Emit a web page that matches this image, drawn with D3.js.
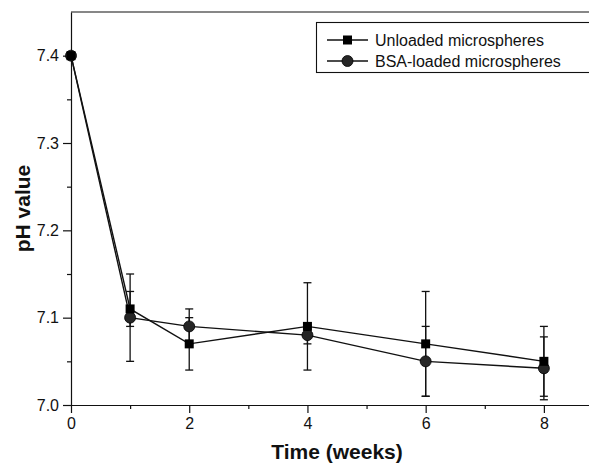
<!DOCTYPE html>
<html lang="en">
<head>
<meta charset="UTF-8">
<title>pH value over time</title>
<script src="https://d3js.org/d3.v7.min.js"></script>
<style>
  body { margin: 0; background: #fff; }
  svg text { font-family: "Liberation Sans", Arial, sans-serif; fill: #111; }
  .axis path, .axis line { stroke: #111; stroke-width: 1.2px; }
</style>
</head>
<body>
<div id="chart"></div>
<script>
// data
const weeks = [0, 1, 2, 4, 6, 8];
const unloaded = [7.40, 7.11, 7.07, 7.09, 7.07, 7.05];
const unloadedErr = [0, 0.02, 0.03, 0.05, 0.06, 0.04];
const bsaLoaded = [7.40, 7.10, 7.09, 7.08, 7.05, 7.042];
const bsaErr = [0, 0.05, 0.02, 0.01, 0.04, 0.036];
const seriesNames = ["Unloaded microspheres", "BSA-loaded microspheres"];
const xTicks = [0, 2, 4, 6, 8];
const yTicks = [7.0, 7.1, 7.2, 7.3, 7.4];

var W = 589, H = 466;
var margin = {top: 12, left: 71, bottom: 61};

var svg = d3.select("#chart").append("svg")
  .attr("width", W).attr("height", H);

// plot box runs past the right edge of the picture (cropped)
var x = d3.scaleLinear().domain([0, 9]).range([margin.left, 603]);
var y = d3.scaleLinear().domain([7.0, 7.45]).range([H - margin.bottom, margin.top]);

// minor ticks
svg.append("g").attr("class", "axis")
  .attr("transform", `translate(0,${y(7.0)})`)
  .call(d3.axisBottom(x).tickValues([1, 3, 5, 7]).tickSize(4).tickFormat(""))
  .call(g => g.select(".domain").remove());
svg.append("g").attr("class", "axis")
  .attr("transform", `translate(${x(0)},0)`)
  .call(d3.axisLeft(y).tickValues([7.05, 7.15, 7.25, 7.35]).tickSize(4).tickFormat(""))
  .call(g => g.select(".domain").remove());

// major axes
var xAxis = svg.append("g").attr("class", "axis")
  .attr("transform", `translate(0,${y(7.0)})`)
  .call(d3.axisBottom(x).tickValues(xTicks).tickSize(8).tickSizeOuter(0).tickPadding(5).tickFormat(d3.format("d")));
xAxis.selectAll("text").style("font-size", "16px");

var yAxis = svg.append("g").attr("class", "axis")
  .attr("transform", `translate(${x(0)},0)`)
  .call(d3.axisLeft(y).tickValues(yTicks).tickSize(8).tickSizeOuter(0).tickPadding(4).tickFormat(d3.format(".1f")));
yAxis.selectAll("text").style("font-size", "16px");

// top frame line
svg.append("line")
  .attr("x1", x(0)).attr("x2", x(9))
  .attr("y1", y(7.45)).attr("y2", y(7.45))
  .attr("stroke", "#111").attr("stroke-width", 1.2);

// axis titles
svg.append("text")
  .attr("x", (x(0) + x(9)) / 2).attr("y", 459)
  .attr("text-anchor", "middle")
  .style("font-size", "21px").style("font-weight", "bold")
  .text("Time (weeks)");
svg.append("text")
  .attr("transform", `translate(30,${(y(7.0) + y(7.45)) / 2}) rotate(-90)`)
  .attr("text-anchor", "middle")
  .style("font-size", "21px").style("font-weight", "bold")
  .text("pH value");

var series = [
  {vals: unloaded, err: unloadedErr, shape: "square"},
  {vals: bsaLoaded, err: bsaErr, shape: "circle"}
];

var line = d3.line().x(d => x(d[0])).y(d => y(d[1]));

series.forEach(s => {
  var pts = weeks.map((w, i) => [w, s.vals[i], s.err[i]]);
  svg.append("path")
    .datum(pts)
    .attr("fill", "none").attr("stroke", "#111").attr("stroke-width", 1.4)
    .attr("d", line);

  var eb = svg.append("g").selectAll("g").data(pts.filter(d => d[2] > 0)).join("g")
    .attr("stroke", "#111").attr("stroke-width", 1.3);
  eb.append("line")
    .attr("x1", d => x(d[0])).attr("x2", d => x(d[0]))
    .attr("y1", d => y(d[1] - d[2])).attr("y2", d => y(d[1] + d[2]));
  eb.append("line")
    .attr("x1", d => x(d[0]) - 4).attr("x2", d => x(d[0]) + 4)
    .attr("y1", d => y(d[1] + d[2])).attr("y2", d => y(d[1] + d[2]));
  eb.append("line")
    .attr("x1", d => x(d[0]) - 4).attr("x2", d => x(d[0]) + 4)
    .attr("y1", d => y(d[1] - d[2])).attr("y2", d => y(d[1] - d[2]));
  s.pts = pts;
});

function drawMarker(g, shape, cx, cy) {
  if (shape === "square") {
    g.append("rect").attr("x", cx - 4.5).attr("y", cy - 4.5)
      .attr("width", 9).attr("height", 9).attr("fill", "#000");
  } else {
    g.append("circle").attr("cx", cx).attr("cy", cy).attr("r", 5.5)
      .attr("fill", "#262626").attr("stroke", "#000").attr("stroke-width", 0.8);
  }
}

// circles underneath, squares on top (square hides the circle at week 0)
[series[1], series[0]].forEach(s => {
  var g = svg.append("g");
  s.pts.forEach(d => drawMarker(g, s.shape, x(d[0]), y(d[1])));
});

// legend
var lg = svg.append("g");
lg.append("rect")
  .attr("x", 316.5).attr("y", 22.5).attr("width", 300).attr("height", 50)
  .attr("fill", "#fff").attr("stroke", "#111").attr("stroke-width", 1.1);
seriesNames.forEach((name, i) => {
  var cy = 40 + i * 21;
  lg.append("line").attr("x1", 327).attr("x2", 368).attr("y1", cy).attr("y2", cy)
    .attr("stroke", "#111").attr("stroke-width", 1.4);
  drawMarker(lg, series[i].shape, 347.5, cy);
  lg.append("text").attr("x", 375).attr("y", cy + 5.5)
    .style("font-size", "16px").text(name);
});
</script>
</body>
</html>
